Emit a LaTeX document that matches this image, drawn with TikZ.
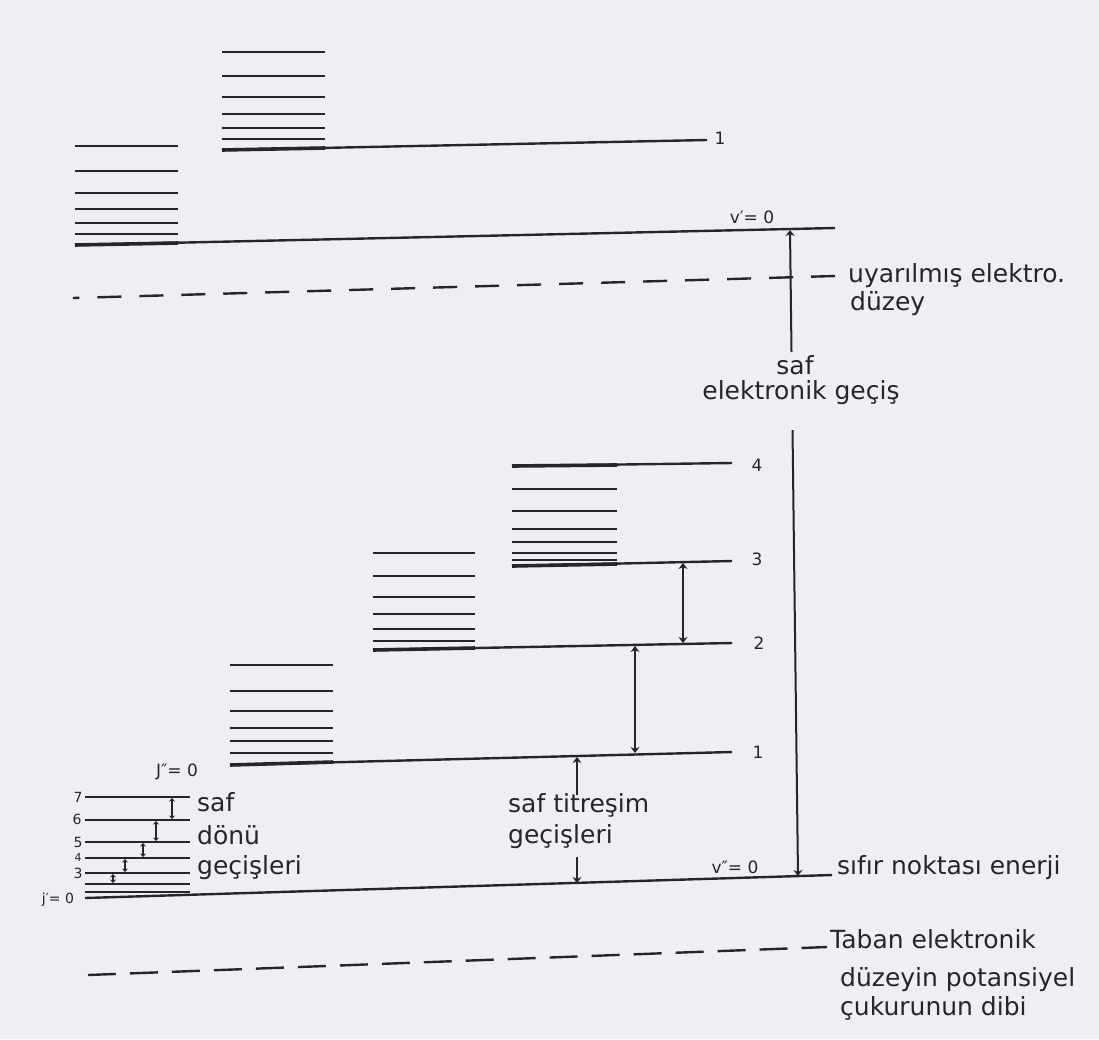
\documentclass[tikz,border=0pt]{standalone}
\usepackage{fontspec}
\setmainfont{DejaVu Sans}
\usetikzlibrary{arrows.meta}
\definecolor{paper}{RGB}{238,238,243}
\definecolor{ink}{RGB}{38,38,42}
\begin{document}
\begin{tikzpicture}[x=1pt,y=-1pt,
  lvl/.style={draw=ink,line width=2.4pt},
  basel/.style={draw=ink,line width=3.6pt},
  rung/.style={draw=ink,line width=1.8pt},
  dashtop/.style={draw=ink,line width=2.4pt,dash pattern=on 24pt off 18pt},
  dashbot/.style={draw=ink,line width=2.4pt,dash pattern=on 28pt off 14pt},
  trans/.style={draw=ink,line width=2pt,{Stealth[length=6pt,width=9pt]}-{Stealth[length=6pt,width=9pt]}},
  uptip/.style={draw=ink,line width=2pt,{Stealth[length=6pt,width=9pt]}-},
  dntip/.style={draw=ink,line width=2pt,-{Stealth[length=6pt,width=9pt]}},
  rtrans/.style={draw=ink,line width=1.4pt,{Stealth[length=3.5pt,width=6pt]}-{Stealth[length=3.5pt,width=6pt]}},
  bigtxt/.style={font=\fontsize{25}{30}\selectfont,text=ink,inner sep=0pt,anchor=west,text height=0.75em,text depth=0.25em},
  bigtxtc/.style={bigtxt,anchor=center},
  lab/.style={font=\fontsize{17}{20}\selectfont,text=ink,inner sep=0pt,anchor=center},
  jlab/.style={font=\fontsize{14}{17}\selectfont,text=ink,inner sep=0pt,anchor=center}
]
\fill[paper] (0,0) rectangle (1099,1039);
\useasboundingbox (0,0) rectangle (1099,1039);

% ---------- excited electronic state ----------
% stack A (v'=0)
\foreach \y in {146,171,193,209,223,234} \draw[lvl] (75,\y) -- (178,\y);
\coordinate (vpL) at (75,245);
\coordinate (vpR) at (835,228);
\draw[basel] (75,245) -- (178,243);
\draw[lvl] (vpL) -- (vpR);
\node[lab] (vplab) at (752,217) {v′= 0};

% stack B (v'=1)
\foreach \y in {52,76,97,114,128,139} \draw[lvl] (222,\y) -- (325,\y);
\coordinate (v1pL) at (222,150);
\coordinate (v1pR) at (707,140);
\draw[basel] (222,150) -- (325,148);
\draw[lvl] (v1pL) -- (v1pR);
\node[lab] (l1top) at (720,138) {1};

% excited dashed level (drawn right to left so a full dash meets the label)
\coordinate (dtL) at (73,298);
\coordinate (dtR) at (835,276);
\draw[dashtop] (dtR) -- (dtL);
\node[bigtxt] (uyar) at (848,280) {uyarılmış elektro.};
\node[bigtxt] (duz1) at (850,308) {düzey};

% ---------- ground electronic state ----------
% zero line
\coordinate (zL) at (85,898);
\coordinate (zR) at (832,875);
\draw[lvl] (zL) -- (zR);
\node[bigtxt] (sifir) at (837,872) {sıfır noktası enerji};
\node[lab] (vpplab) at (735,867) {v″= 0};

% stack E (v''=1)
\foreach \y in {665,691,711,728,741,753} \draw[lvl] (230,\y) -- (333,\y);
\coordinate (v1L) at (230,765);
\coordinate (v1R) at (732,752);
\draw[basel] (230,765) -- (333,762);
\draw[lvl] (v1L) -- (v1R);
\node[lab] (n1) at (758,752) {1};
\node[lab] (jpp) at (177,772) {J″= 0};

% stack D (v''=2)
\foreach \y in {553,576,597,614,629,641} \draw[lvl] (373,\y) -- (475,\y);
\coordinate (v2L) at (373,650);
\coordinate (v2R) at (732,643);
\draw[basel] (373,650) -- (475,648);
\draw[lvl] (v2L) -- (v2R);
\node[lab] (n2) at (759,643) {2};

% stack C (v''=3 and v''=4)
\foreach \y in {489,511,529,542,553,560} \draw[lvl] (512,\y) -- (617,\y);
\coordinate (v3L) at (512,566);
\coordinate (v3R) at (732,561);
\draw[basel] (512,566) -- (617,564);
\draw[lvl] (v3L) -- (v3R);
\node[lab] (n3) at (757,559) {3};
\coordinate (v4L) at (512,466);
\coordinate (v4R) at (732,463);
\draw[basel] (512,466) -- (617,465);
\draw[lvl] (v4L) -- (v4R);
\node[lab] (n4) at (757,465) {4};

% vibrational transitions
\coordinate (a32t) at (683,563);
\coordinate (a32b) at (683,643);
\draw[trans] (a32t) -- (a32b);
\coordinate (a21t) at (635,646);
\coordinate (a21b) at (635,753);
\draw[trans] (a21t) -- (a21b);
\coordinate (a10t) at (577,757);
\coordinate (a10m) at (577,795);
\coordinate (a10n) at (577,857);
\coordinate (a10b) at (577,883);
\draw[uptip] (a10t) -- (a10m);
\draw[dntip] (a10n) -- (a10b);
\node[bigtxt] (saft) at (508,810) {saf titreşim};
\node[bigtxt] (gect) at (508,841) {geçişleri};

% pure electronic transition
\coordinate (lat) at (790,230);
\coordinate (lau) at (791.5,352);
\coordinate (lal) at (792.5,430);
\coordinate (lab) at (798,876);
\draw[uptip] (lat) -- (lau);
\draw[dntip] (lal) -- (lab);
\node[bigtxtc] (safe) at (795,372) {saf};
\node[bigtxtc] (elek) at (801,397) {elektronik geçiş};

% ground dashed level
\coordinate (dbL) at (88,975);
\coordinate (dbR) at (827,947);
\draw[dashbot] (dbL) -- (dbR);
\node[bigtxt] (taban) at (830,946) {Taban elektronik};
\node[bigtxt] (duz2) at (840,984) {düzeyin potansiyel};
\node[bigtxt] (cuk) at (840,1013) {çukurunun dibi};

% ---------- rotational ladder ----------
\foreach \y in {797,820,842,858,873,884,892} \draw[rung] (85,\y) -- (190,\y);
\node[jlab] (j7) at (78,797) {7};
\node[jlab] (j6) at (77,819) {6};
\node[jlab] (j5) at (78,842) {5};
\node[jlab,font=\fontsize{11}{13}\selectfont] (j4) at (78,857) {4};
\node[jlab] (j3) at (78,873) {3};
\node[jlab] (j0) at (58,900) {j′= 0};
\coordinate (r76t) at (172,798); \coordinate (r76b) at (172,819);
\coordinate (r65t) at (156,821); \coordinate (r65b) at (156,841);
\coordinate (r54t) at (143,843); \coordinate (r54b) at (143,857);
\coordinate (r43t) at (125,859); \coordinate (r43b) at (125,872);
\coordinate (r32t) at (113,874); \coordinate (r32b) at (113,883);
\draw[rtrans] (r76t) -- (r76b);
\draw[rtrans] (r65t) -- (r65b);
\draw[rtrans] (r54t) -- (r54b);
\draw[rtrans] (r43t) -- (r43b);
\draw[rtrans] (r32t) -- (r32b);
\node[bigtxt] (rsaf) at (197,809) {saf};
\node[bigtxt] (rdon) at (197,842) {dönü};
\node[bigtxt] (rgec) at (197,872) {geçişleri};
\end{tikzpicture}
\end{document}
